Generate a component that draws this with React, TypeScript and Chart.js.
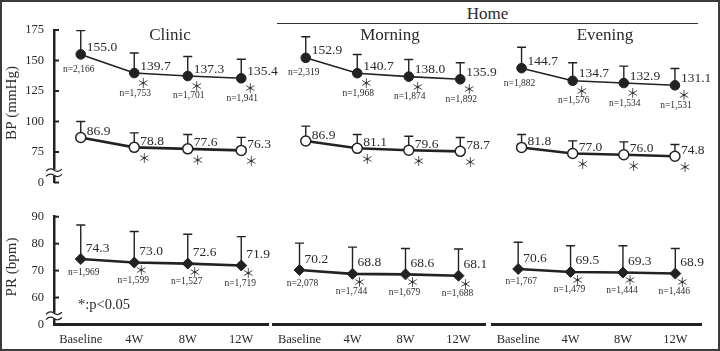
import React, { useEffect, useRef } from 'react';
import { Chart, registerables } from 'chart.js';

Chart.register(...registerables);

const SERIF = "'Liberation Serif', 'Times New Roman', serif";
const STAR_FONT = "'Noto Sans CJK JP', 'DejaVu Sans', sans-serif";
const INK = '#222222';
const TEXT = '#2a2a2a';

// ---------- categories & texts ----------
const timepoints = ['Baseline', '4W', '8W', '12W'];
const settingTitles = ['Clinic', 'Morning', 'Evening'];
const homeTitle = 'Home';
const bpAxisTitle = 'BP (mmHg)';
const prAxisTitle = 'PR (bpm)';
const footnote = '*:p<0.05';
const significantMark = '＊';

// ---------- ticks (broken axes: lowest tick is labelled 0) ----------
const bpTickValues = [50, 75, 100, 125, 150, 175];
const bpTickLabels = ['0', '75', '100', '125', '150', '175'];
const prTickValues = [50, 60, 70, 80, 90];
const prTickLabels = ['0', '60', '70', '80', '90'];

const significant = [false, true, true, true];

// ---------- Clinic ----------
const clinicSBP = [155.0, 139.7, 137.3, 135.4];
const clinicSBPsd = [19.5, 16.4, 16.0, 15.6];
const clinicDBP = [86.9, 78.8, 77.6, 76.3];
const clinicDBPsd = [13.1, 11.9, 11.8, 10.7];
const clinicBPn = ['n=2,166', 'n=1,753', 'n=1,701', 'n=1,941'];
const clinicPR = [74.3, 73.0, 72.6, 71.9];
const clinicPRsd = [12.6, 11.5, 10.9, 10.7];
const clinicPRn = ['n=1,969', 'n=1,599', 'n=1,527', 'n=1,719'];

// ---------- Home morning ----------
const morningSBP = [152.9, 140.7, 138.0, 135.9];
const morningSBPsd = [16.7, 14.9, 13.6, 13.1];
const morningDBP = [86.9, 81.1, 79.6, 78.7];
const morningDBPsd = [11.8, 11.0, 11.1, 11.0];
const morningBPn = ['n=2,319', 'n=1,968', 'n=1,874', 'n=1,892'];
const morningPR = [70.2, 68.8, 68.6, 68.1];
const morningPRsd = [10.0, 9.9, 9.6, 9.9];
const morningPRn = ['n=2,078', 'n=1,744', 'n=1,679', 'n=1,688'];

// ---------- Home evening ----------
const eveningSBP = [144.7, 134.7, 132.9, 131.1];
const eveningSBPsd = [16.6, 14.3, 13.4, 13.3];
const eveningDBP = [81.8, 77.0, 76.0, 74.8];
const eveningDBPsd = [10.3, 10.0, 10.2, 9.3];
const eveningBPn = ['n=1,882', 'n=1,576', 'n=1,534', 'n=1,531'];
const eveningPR = [70.6, 69.5, 69.3, 68.9];
const eveningPRsd = [9.9, 9.7, 9.9, 9.3];
const eveningPRn = ['n=1,767', 'n=1,479', 'n=1,444', 'n=1,446'];

const bpData = [
  { sbp: clinicSBP, sbpSD: clinicSBPsd, dbp: clinicDBP, dbpSD: clinicDBPsd, n: clinicBPn },
  { sbp: morningSBP, sbpSD: morningSBPsd, dbp: morningDBP, dbpSD: morningDBPsd, n: morningBPn },
  { sbp: eveningSBP, sbpSD: eveningSBPsd, dbp: eveningDBP, dbpSD: eveningDBPsd, n: eveningBPn },
];
const prData = [
  { pr: clinicPR, sd: clinicPRsd, n: clinicPRn },
  { pr: morningPR, sd: morningPRsd, n: morningPRn },
  { pr: eveningPR, sd: eveningPRsd, n: eveningPRn },
];

// ---------- layout (page pixels) ----------
const columns = [
  { left: 0, width: 290, topArea: [54, 268], bottomArea: [54, 268], titleX: 170 },
  { left: 262, width: 245, topArea: [280, 486], bottomArea: [273, 485], titleX: 390 },
  { left: 480, width: 240, topArea: [496, 700.5], bottomArea: [492, 701.5], titleX: 605 },
];
const rows = {
  bp: { top: 0, height: 200, areaY: [30, 187.5], xAxisH: 0 },
  pr: { top: 195, height: 156, areaY: [216.7, 324.5], xAxisH: 26.5 },
};
const Y_AXIS_W = 54;

type Kind = 'sbp' | 'dbp' | 'pr';
type SeriesDef = { values: number[]; sd: number[]; n?: string[]; kind: Kind };

const OFFSETS: Record<Kind, any> = {
  sbp: { label: [6, -7], star: [9, 10], nBase: [-2, 15], nOther: [1, 20] },
  dbp: { label: [6, -6], star: [10, 11] },
  pr: { label: [5, -11], star: [7, 8], nBase: [3, 13], nOther: [-1, 18] },
};

function makeDecor(col: number, row: 'bp' | 'pr', series: SeriesDef[]) {
  const c = columns[col];
  const r = rows[row];
  const ox = -c.left;
  const oy = -r.top;
  return {
    id: 'decor',
    beforeDatasetsDraw(chart: any) {
      const { ctx } = chart;
      const xs = chart.scales.x;
      const ys = chart.scales.y;
      ctx.save();
      ctx.strokeStyle = INK;
      ctx.lineWidth = 1.4;
      series.forEach((s) =>
        s.values.forEach((v, i) => {
          const px = xs.getPixelForValue(i);
          const py = ys.getPixelForValue(v);
          const pt = ys.getPixelForValue(v + s.sd[i]);
          ctx.beginPath();
          ctx.moveTo(px, py);
          ctx.lineTo(px, pt);
          ctx.moveTo(px - 4.5, pt);
          ctx.lineTo(px + 4.5, pt);
          ctx.stroke();
        })
      );
      ctx.restore();
    },
    afterDatasetsDraw(chart: any) {
      const { ctx } = chart;
      const xs = chart.scales.x;
      const ys = chart.scales.y;
      ctx.save();
      ctx.fillStyle = TEXT;
      series.forEach((s) => {
        const off = OFFSETS[s.kind];
        s.values.forEach((v, i) => {
          const px = xs.getPixelForValue(i);
          const py = ys.getPixelForValue(v);
          ctx.font = `13.5px ${SERIF}`;
          ctx.textAlign = 'left';
          ctx.textBaseline = 'middle';
          ctx.fillText(v.toFixed(1), px + off.label[0], py + off.label[1]);
          if (significant[i]) {
            ctx.font = `13px ${STAR_FONT}`;
            ctx.textAlign = 'center';
            ctx.fillText(significantMark, px + off.star[0], py + off.star[1]);
          }
          if (s.n) {
            const o = i === 0 ? off.nBase : off.nOther;
            ctx.font = `9.5px ${SERIF}`;
            ctx.textAlign = 'center';
            ctx.fillText(s.n[i], px + o[0], py + o[1]);
          }
        });
      });
      ctx.restore();
    },
    afterDraw(chart: any) {
      const { ctx } = chart;
      const ys = chart.scales.y;
      const area = chart.chartArea;
      ctx.save();
      if (col === 0) {
        const tickVals = row === 'bp' ? bpTickValues : prTickValues;
        // inward tick marks
        ctx.strokeStyle = INK;
        ctx.lineWidth = 2;
        tickVals.forEach((v) => {
          const y = ys.getPixelForValue(v);
          ctx.beginPath();
          ctx.moveTo(area.left, y);
          ctx.lineTo(area.left + 5, y);
          ctx.stroke();
        });
        // axis break
        const y0 = ys.getPixelForValue(tickVals[0]);
        const y1 = ys.getPixelForValue(tickVals[1]);
        const by = y0 - (y0 - y1) * 0.32;
        const bx = area.left;
        ctx.fillStyle = '#ffffff';
        ctx.fillRect(bx - 3, by - 3, 6, 6);
        ctx.lineWidth = 1.2;
        [-2.6, 2.6].forEach((dy) => {
          ctx.beginPath();
          ctx.moveTo(bx - 8, by + dy + 1);
          ctx.quadraticCurveTo(bx - 4, by + dy - 3, bx, by + dy);
          ctx.quadraticCurveTo(bx + 4, by + dy + 3, bx + 8, by + dy - 1);
          ctx.stroke();
        });
        // axis title
        ctx.fillStyle = TEXT;
        ctx.font = `15px ${SERIF}`;
        ctx.textAlign = 'center';
        ctx.textBaseline = 'middle';
        ctx.translate(12 + ox, (row === 'bp' ? 103 : 267) + oy);
        ctx.rotate(-Math.PI / 2);
        ctx.fillText(row === 'bp' ? bpAxisTitle : prAxisTitle, 0, 0);
        ctx.setTransform(1, 0, 0, 1, 0, 0);
        if (row === 'pr') {
          ctx.font = `14.5px ${SERIF}`;
          ctx.textAlign = 'left';
          ctx.fillText(footnote, 78 + ox, 305 + oy);
        }
      }
      if (row === 'bp') {
        ctx.fillStyle = TEXT;
        ctx.font = `17px ${SERIF}`;
        ctx.textAlign = 'center';
        ctx.textBaseline = 'middle';
        ctx.fillText(settingTitles[col], c.titleX + ox, 36 + oy);
      }
      ctx.restore();
    },
  };
}

function buildConfig(col: number, row: 'bp' | 'pr') {
  const c = columns[col];
  const r = rows[row];
  const area = row === 'bp' ? c.topArea : c.bottomArea;
  const isLeft = col === 0;
  const padding = {
    left: area[0] - c.left - (isLeft ? Y_AXIS_W : 0),
    right: c.left + c.width - area[1],
    top: r.areaY[0] - r.top,
    bottom: r.top + r.height - r.areaY[1] - r.xAxisH,
  };
  let datasets: any[];
  let series: SeriesDef[];
  if (row === 'bp') {
    const d = bpData[col];
    datasets = [
      {
        data: d.sbp,
        borderColor: INK,
        borderWidth: 1.6,
        pointStyle: 'circle',
        pointRadius: 4.8,
        pointBackgroundColor: INK,
        pointBorderColor: INK,
        pointBorderWidth: 1,
      },
      {
        data: d.dbp,
        borderColor: INK,
        borderWidth: 2.6,
        pointStyle: 'circle',
        pointRadius: 5,
        pointBackgroundColor: '#ffffff',
        pointBorderColor: INK,
        pointBorderWidth: 1.5,
      },
    ];
    series = [
      { values: d.sbp, sd: d.sbpSD, n: d.n, kind: 'sbp' },
      { values: d.dbp, sd: d.dbpSD, kind: 'dbp' },
    ];
  } else {
    const d = prData[col];
    datasets = [
      {
        data: d.pr,
        borderColor: INK,
        borderWidth: 2.6,
        pointStyle: 'rectRot',
        pointRadius: 5.5,
        pointBackgroundColor: INK,
        pointBorderColor: INK,
        pointBorderWidth: 1,
      },
    ];
    series = [{ values: d.pr, sd: d.sd, n: d.n, kind: 'pr' }];
  }
  const tickVals = row === 'bp' ? bpTickValues : prTickValues;
  const tickLabs = row === 'bp' ? bpTickLabels : prTickLabels;
  return {
    type: 'line',
    data: { labels: timepoints, datasets },
    options: {
      responsive: false,
      animation: false,
      devicePixelRatio: 1,
      layout: { padding },
      elements: { line: { tension: 0 } },
      plugins: { legend: { display: false }, tooltip: { enabled: false } },
      scales: {
        x: {
          type: 'category',
          offset: true,
          display: row === 'pr',
          grid: { display: false, drawTicks: false },
          border: { display: true, color: INK, width: 3 },
          ticks: { font: { family: SERIF, size: 12.5 }, color: TEXT, padding: 8, maxRotation: 0, autoSkip: false },
          afterFit: (s: any) => {
            if (row === 'pr') s.height = r.xAxisH;
          },
        },
        y: {
          type: 'linear',
          min: tickVals[0],
          max: tickVals[tickVals.length - 1],
          display: isLeft,
          grid: { display: false, drawTicks: false },
          border: { display: true, color: INK, width: 2.5 },
          afterBuildTicks: (s: any) => {
            s.ticks = tickVals.map((v) => ({ value: v }));
          },
          ticks: {
            font: { family: SERIF, size: 12.5 },
            color: TEXT,
            padding: 10,
            callback: (v: number) => tickLabs[tickVals.indexOf(v)],
          },
          afterFit: (s: any) => {
            if (isLeft) s.width = Y_AXIS_W;
          },
        },
      },
    },
    plugins: [makeDecor(col, row, series)],
  };
}

function Panel({ col, row }: { col: number; row: 'bp' | 'pr' }) {
  const ref = useRef<HTMLCanvasElement>(null);
  const c = columns[col];
  const r = rows[row];
  useEffect(() => {
    const chart = new Chart(ref.current as HTMLCanvasElement, buildConfig(col, row) as any);
    return () => chart.destroy();
  }, [col, row]);
  return (
    <canvas
      ref={ref}
      width={c.width}
      height={r.height}
      style={{ position: 'absolute', left: c.left, top: r.top, width: c.width, height: r.height }}
    />
  );
}

export default function App() {
  return (
    <div style={{ position: 'fixed', left: 0, top: 0, width: 720, height: 351, background: '#fff', overflow: 'hidden' }}>
      <div
        style={{
          position: 'absolute',
          left: 0,
          top: 0,
          width: 720,
          height: 351,
          boxSizing: 'border-box',
          border: '2.5px solid #3c3c3c',
        }}
      />
      <div
        style={{
          position: 'absolute',
          left: 277,
          top: 3,
          width: 421,
          height: 20,
          borderBottom: '1.5px solid #333',
          textAlign: 'center',
          font: `17px ${SERIF}`,
          lineHeight: '22px',
          color: TEXT,
        }}
      >
        {homeTitle}
      </div>
      {[0, 1, 2].map((col) => (
        <React.Fragment key={col}>
          <Panel col={col} row="bp" />
          <Panel col={col} row="pr" />
        </React.Fragment>
      ))}
    </div>
  );
}
